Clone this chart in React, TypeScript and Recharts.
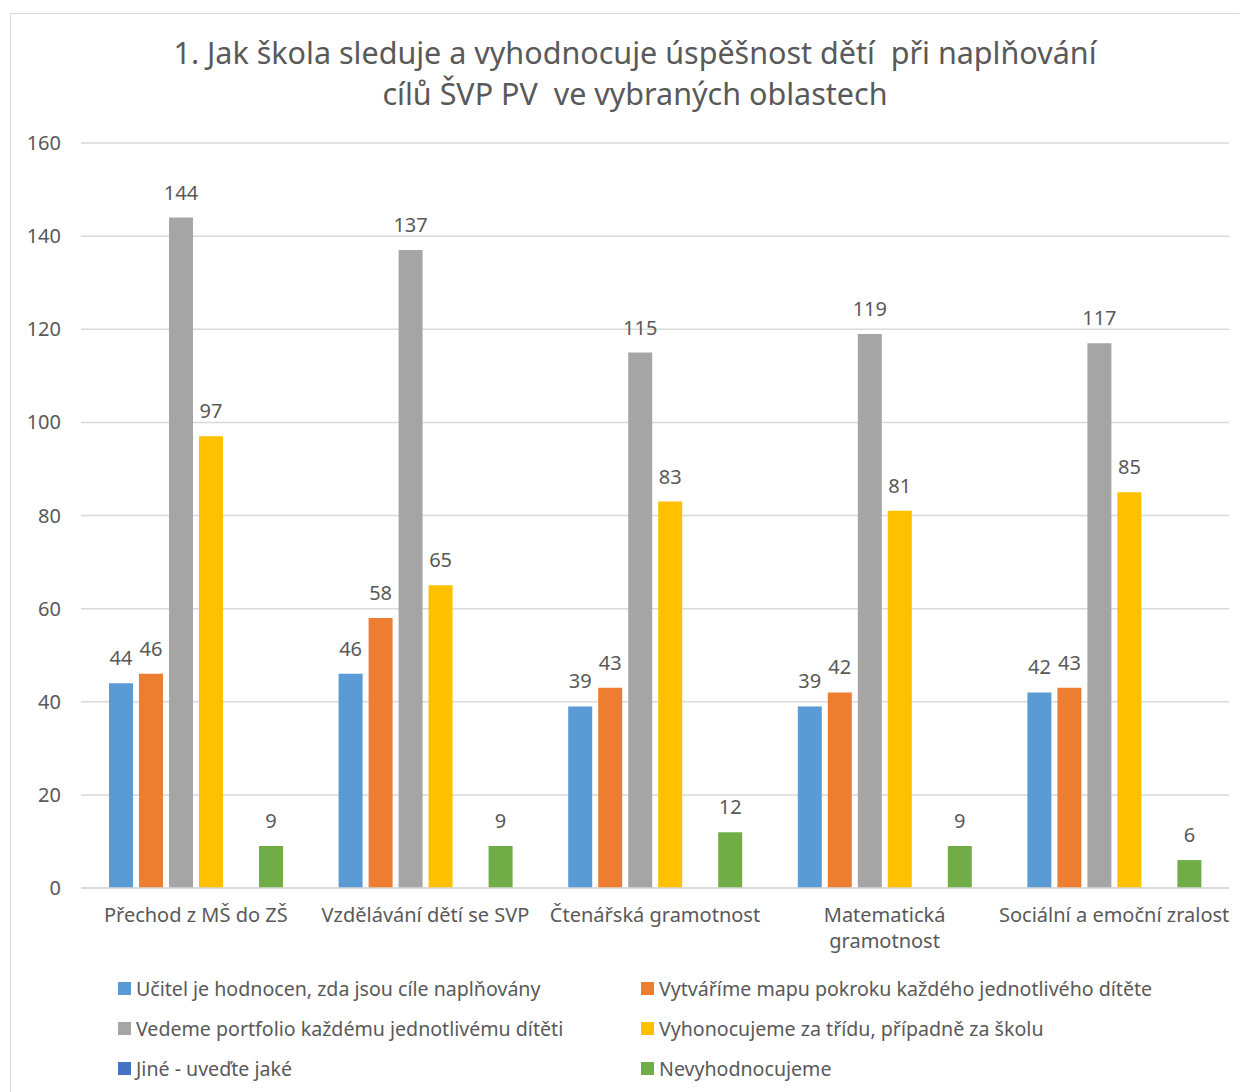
import React from 'react';
import { BarChart, Bar, XAxis, YAxis, CartesianGrid, LabelList, Legend } from 'recharts';

const categories = [
  'Přechod z MŠ do ZŠ',
  'Vzdělávání dětí se SVP',
  'Čtenářská gramotnost',
  'Matematická\ngramotnost',
  'Sociální a emoční zralost',
];

const seriesNames = [
  'Učitel je hodnocen, zda jsou cíle naplňovány',
  'Vytváříme mapu pokroku každého jednotlivého dítěte',
  'Vedeme portfolio každému jednotlivému dítěti',
  'Vyhonocujeme za třídu, případně za školu',
  'Jiné - uveďte jaké',
  'Nevyhodnocujeme',
];

const ucitel = [44, 46, 39, 39, 42];
const mapa = [46, 58, 43, 42, 43];
const portfolio = [144, 137, 115, 119, 117];
const trida = [97, 65, 83, 81, 85];
const jine = [0, 0, 0, 0, 0];
const nevyhodnocujeme = [9, 9, 12, 9, 6];

const yTicks = [0, 20, 40, 60, 80, 100, 120, 140, 160];

const colors = ['#5B9BD5', '#ED7D31', '#A5A5A5', '#FFC000', '#4472C4', '#70AD47'];
const keys = ['s0', 's1', 's2', 's3', 's4', 's5'];
const allSeries = [ucitel, mapa, portfolio, trida, jine, nevyhodnocujeme];

const data = categories.map((name, i) => {
  const row: Record<string, string | number> = { name };
  allSeries.forEach((s, j) => {
    row[keys[j]] = s[i];
  });
  return row;
});

const FONT = '"Noto Sans", sans-serif';
const TEXT = '#595959';

const CategoryTick = (props: any) => {
  const { x, y, payload } = props;
  const lines = String(payload.value).split('\n');
  return (
    <text x={x} y={y + 26} textAnchor='middle' fill={TEXT} fontSize={20} fontFamily={FONT}>
      {lines.map((l, i) => (
        <tspan key={i} x={x} dy={i === 0 ? 0 : 26}>
          {l}
        </tspan>
      ))}
    </text>
  );
};

const LegendBox = () => {
  // two columns, filled row by row
  return (
    <div
      style={{
        display: 'grid',
        gridTemplateColumns: '523px 590px',
        rowGap: 14,
        paddingLeft: 107,
        paddingTop: 7,
        fontFamily: FONT,
        fontSize: 19.6,
        color: TEXT,
      }}>
      {seriesNames.map((n, i) => (
        <div key={n} style={{ display: 'flex', alignItems: 'center', height: 26, whiteSpace: 'nowrap' }}>
          <span
            style={{
              width: 13,
              height: 13,
              background: colors[i],
              display: 'inline-block',
              marginRight: 5,
              flexShrink: 0,
            }}
          />
          {n}
        </div>
      ))}
    </div>
  );
};

const App: React.FC = () => {
  return (
    <div
      style={{
        position: 'relative',
        marginLeft: 2,
        marginTop: 5,
        width: 1237,
        height: 1079,
        borderLeft: '1px solid #d9d9d9',
        borderTop: '1px solid #d9d9d9',
        background: '#fff',
      }}>
      <div
        style={{
          position: 'absolute',
          left: 0,
          top: 18,
          width: 1248,
          textAlign: 'center',
          fontFamily: FONT,
          fontSize: 30.5,
          lineHeight: '41px',
          color: TEXT,
          zIndex: 2,
        }}>
        1. Jak škola sleduje a vyhodnocuje úspěšnost dětí&nbsp; při naplňování
        <br />
        cílů ŠVP PV&nbsp; ve vybraných oblastech
      </div>
      <BarChart
        width={1237}
        height={1079}
        data={data}
        margin={{ top: 129, right: 19, bottom: 0, left: 0 }}
        barSize={24}
        barGap={6}>
        <CartesianGrid vertical={false} stroke='#d9d9d9' strokeWidth={1.5} />
        <XAxis
          dataKey='name'
          height={80}
          tickLine={false}
          axisLine={{ stroke: '#d9d9d9', strokeWidth: 1.5 }}
          tick={<CategoryTick />}
          interval={0}
        />
        <YAxis
          width={70}
          domain={[0, 160]}
          ticks={yTicks}
          axisLine={false}
          tickLine={false}
          tickMargin={14}
          tick={{ fill: TEXT, fontSize: 20, fontFamily: FONT }}
        />
        <Legend verticalAlign='bottom' height={125} content={<LegendBox />} />
        {keys.map((k, j) => (
          <Bar key={k} dataKey={k} name={seriesNames[j]} fill={colors[j]} isAnimationActive={false}>
            {j !== 4 && (
              <LabelList
                dataKey={k}
                position='top'
                offset={18}
                fill={TEXT}
                fontSize={20}
                fontFamily={FONT}
              />
            )}
          </Bar>
        ))}
      </BarChart>
    </div>
  );
};

export default App;
